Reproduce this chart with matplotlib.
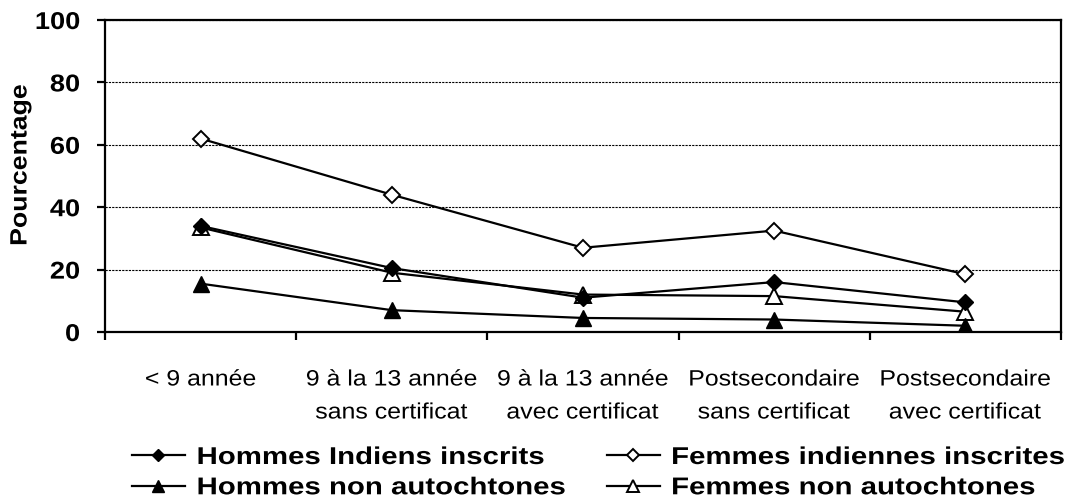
import matplotlib
matplotlib.use("Agg")
import matplotlib.pyplot as plt
from matplotlib.patheffects import AbstractPathEffect
from matplotlib.transforms import Affine2D
from matplotlib.ticker import FixedLocator

plt.rcParams["font.family"] = ["Liberation Sans", "DejaVu Sans"]

# --- data -------------------------------------------------------------
categories = [
    "< 9 année",
    "9 à la 13 année\nsans certificat",
    "9 à la 13 année\navec certificat",
    "Postsecondaire\nsans certificat",
    "Postsecondaire\navec certificat",
]
hommes_indiens = [34, 20.5, 11, 16, 9.5]
femmes_indiennes = [62, 44, 27, 32.5, 18.5]
hommes_non_autochtones = [15.5, 7, 4.5, 4, 2]
femmes_non_autochtones = [33.5, 19, 12, 11.5, 6.5]
series_labels = [
    "Hommes Indiens inscrits",
    "Hommes non autochtones",
    "Femmes indiennes inscrites",
    "Femmes non autochtones",
]
y_ticks = [0, 20, 40, 60, 80, 100]


class Widen(AbstractPathEffect):
    """Draw text glyphs widened horizontally about a chosen anchor."""

    def __init__(self, factor, anchor="center"):
        super().__init__()
        self.factor = factor
        self.anchor = anchor

    def draw_path(self, renderer, gc, tpath, affine, rgbFace=None):
        ext = tpath.get_extents()
        x0 = {"left": ext.x0, "center": 0.5 * (ext.x0 + ext.x1),
              "right": ext.x1}[self.anchor]
        t = Affine2D().translate(-x0, 0).scale(self.factor, 1).translate(x0, 0)
        renderer.draw_path(gc, tpath, t + affine, rgbFace)


W, H = 1070, 498
fig = plt.figure(figsize=(W / 100, H / 100), dpi=100)
ax = fig.add_axes([105 / W, 1 - 332 / H, (1061 - 105) / W, (332 - 20) / H])

x = list(range(len(categories)))
lw = 1.6
ax.plot(x, hommes_indiens, color="black", lw=lw, marker="D", ms=8,
        mfc="black", mec="black", label=series_labels[0], zorder=4)
ax.plot(x, hommes_non_autochtones, color="black", lw=lw, marker="^", ms=11,
        mfc="black", mec="black", label=series_labels[1], zorder=4)
ax.plot(x, femmes_indiennes, color="black", lw=lw, marker="D", ms=8,
        mfc="white", mec="black", mew=1.4, label=series_labels[2], zorder=4)
ax.plot(x, femmes_non_autochtones, color="black", lw=lw, marker="^", ms=11,
        mfc="white", mec="black", mew=1.4, label=series_labels[3], zorder=3)

ax.set_xlim(-0.5, len(categories) - 0.5)
ax.set_ylim(0, 100)

for sp in ax.spines.values():
    sp.set_linewidth(1.6)
    sp.set_color("black")

ax.set_yticks(y_ticks)
ax.yaxis.grid(True, color="black", lw=0.8, ls=(0, (2, 1)))
ax.set_axisbelow(True)
ax.tick_params(axis="y", direction="out", length=6, width=1.6, pad=12,
               labelsize=17.5)
for lab in ax.get_yticklabels():
    lab.set_fontweight("bold")
    lab.set_path_effects([Widen(1.12, "right")])

ax.set_xticks(x)
ax.set_xticklabels(categories, fontsize=16)
ax.xaxis.set_minor_locator(FixedLocator([i - 0.5 for i in range(len(categories) + 1)]))
ax.tick_params(axis="x", which="major", length=0, pad=27)
ax.tick_params(axis="x", which="minor", direction="out", length=6, width=1.6)
for lab in ax.get_xticklabels():
    lab.set_linespacing(1.75)
    lab.set_path_effects([Widen(1.12, "center")])

ylab = fig.text(20 / W, 1 - 165 / H, "Pourcentage", rotation=90,
                ha="center", va="center", fontsize=17, fontweight="bold")
ylab.set_path_effects([Widen(1.13, "center")])

leg = fig.legend(loc="upper left", bbox_to_anchor=(132 / W, 1 - 446 / H),
                 ncol=2, frameon=False, borderpad=0, borderaxespad=0,
                 handlelength=2.18, handletextpad=0.49, columnspacing=4.3,
                 labelspacing=0.3, markerscale=0.8,
                 prop={"size": 17.5, "weight": "bold"})
for t in leg.get_texts():
    t.set_path_effects([Widen(1.21, "left")])

fig.savefig("out.png", dpi=100)
